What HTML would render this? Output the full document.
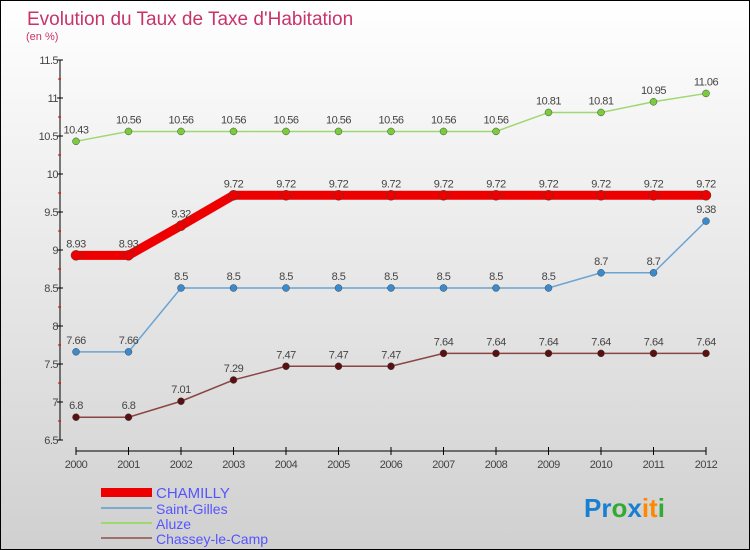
<!DOCTYPE html>
<html><head><meta charset="utf-8"><style>
body{margin:0}
#c{width:748px;height:548px;border:1px solid #000;background:linear-gradient(#fff,#d0d0d0);position:relative;font-family:"Liberation Sans",sans-serif;overflow:hidden}
</style></head><body>
<div id="c">
<svg width="748" height="548">
<text x="26" y="24" font-size="19" fill="#c8336a">Evolution du Taux de Taxe d'Habitation</text>
<text x="25" y="39" font-size="11" fill="#c8336a">(en %)</text>
<g id="axes"></g><g id="series"></g>
<g>
<rect x="100" y="487" width="51" height="9" fill="#e00"/>
<text x="155" y="497" font-size="15" fill="#55f">CHAMILLY</text>
<line x1="100" y1="507" x2="151" y2="507" stroke="#7aaad0" stroke-width="2"/>
<text x="155" y="513" font-size="14" fill="#55f">Saint-Gilles</text>
<line x1="100" y1="522" x2="151" y2="522" stroke="#9ed870" stroke-width="2"/>
<text x="155" y="528" font-size="14" fill="#55f">Aluze</text>
<line x1="100" y1="537" x2="151" y2="537" stroke="#a07070" stroke-width="2"/>
<text x="155" y="543" font-size="14" fill="#55f">Chassey-le-Camp</text>
</g>
<g font-size="26" font-weight="bold">
<text x="583" y="516"><tspan fill="#1a7fd0">Pr</tspan><tspan fill="#3a3">o</tspan><tspan fill="#1a7fd0">x</tspan><tspan fill="#f80">it</tspan><tspan fill="#3a3">i</tspan></text>
</g>
</svg></div>
<script>
const years=[2000,2001,2002,2003,2004,2005,2006,2007,2008,2009,2010,2011,2012];
const chamilly=[8.93,8.93,9.32,9.72,9.72,9.72,9.72,9.72,9.72,9.72,9.72,9.72,9.72];
const saintGilles=[7.66,7.66,8.5,8.5,8.5,8.5,8.5,8.5,8.5,8.5,8.7,8.7,9.38];
const aluze=[10.43,10.56,10.56,10.56,10.56,10.56,10.56,10.56,10.56,10.81,10.81,10.95,11.06];
const chassey=[6.8,6.8,7.01,7.29,7.47,7.47,7.47,7.64,7.64,7.64,7.64,7.64,7.64];
const yTicks=[6.5,7,7.5,8,8.5,9,9.5,10,10.5,11,11.5];
const yTickLabels=["6.5","7","7.5","8","8.5","9","9.5","10","10.5","11","11.5"];
const NS="http://www.w3.org/2000/svg";
const X=i=>75+i*(705-75)/(years.length-1);
const Y=v=>439-(v-6.5)*76;
function mk(t,a,p){const e=document.createElementNS(NS,t);for(const k in a)e.setAttribute(k,a[k]);p.appendChild(e);return e;}
const ax=document.getElementById('axes');
mk('line',{x1:59,y1:Y(11.5),x2:59,y2:Y(6.5),stroke:'#000'},ax);
mk('line',{x1:75,y1:450,x2:705,y2:450,stroke:'#000'},ax);
yTicks.forEach((v,i)=>{
 const t=mk('line',{x1:56,y1:Y(v),x2:62,y2:Y(v),stroke:'#000'},ax);
 
 const m=mk('line',{x1:57,y1:Y(v+0.25),x2:60,y2:Y(v+0.25),stroke:'#d00'},ax);
 if(v===11.5)m.remove();
 const l=mk('text',{x:57,y:Y(v)+4,'font-size':11,'text-anchor':'end',fill:'#444','letter-spacing':'-0.5'},ax);
 l.textContent=yTickLabels[i];
 
});
years.forEach((y,i)=>{
 mk('line',{x1:X(i),y1:446,x2:X(i),y2:454,stroke:'#000'},ax);
 const l=mk('text',{x:X(i),y:467,'font-size':11,'text-anchor':'middle',fill:'#444','letter-spacing':'-0.5'},ax);
 l.textContent=y;
 
});
const sg=document.getElementById('series');
function draw(data,name,color,w,dot,r){
 const g=mk('g',{},sg);
 
 
 const p=mk('polyline',{points:data.map((v,i)=>X(i)+','+Y(v)).join(' '),fill:'none',stroke:color,'stroke-width':w},g);
 
 data.forEach((v,i)=>{
  const c=mk('circle',{cx:X(i),cy:Y(v),r:r,fill:dot,stroke:'#444','stroke-width':0.5},g);
  
  const t=mk('text',{x:X(i),y:Y(v)-8,'font-size':11,'text-anchor':'middle',fill:'#444','letter-spacing':'-0.5'},g);
  t.textContent=String(v);
  
 });
}
draw(aluze,'aluze','#9ed870',1.5,'#7acc3a',3.5);
draw(saintGilles,'saint-gilles','#6aa4d4',1.5,'#3a8ad0',3.5);
draw(chassey,'chassey-le-camp','#8a4444',1.5,'#5a1010',3.5);
draw(chamilly,'chamilly','#e00',9,'#e00',5);
</script>
</body></html>
